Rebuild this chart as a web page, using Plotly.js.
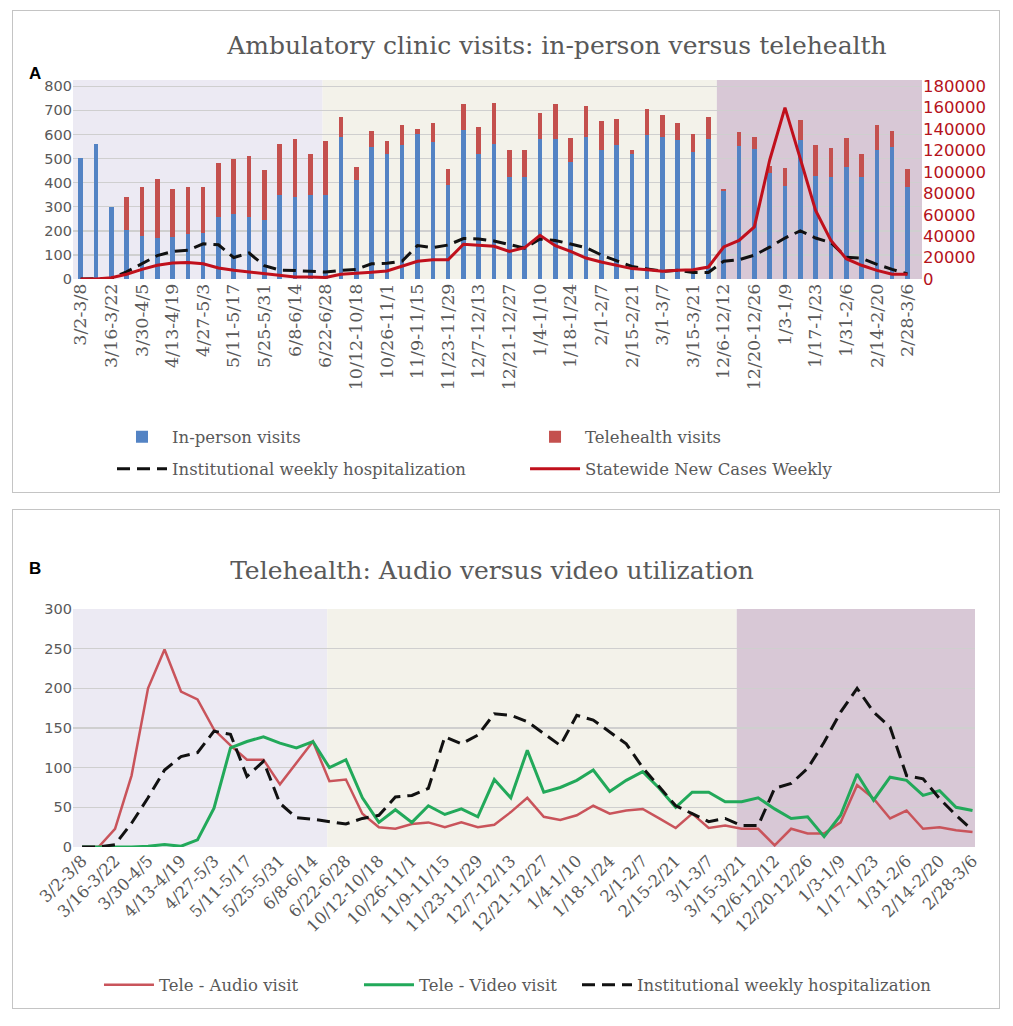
<!DOCTYPE html>
<html>
<head>
<meta charset="utf-8">
<script src="https://cdn.plot.ly/plotly-3.0.1.min.js"></script>
<style>
  html, body { margin: 0; padding: 0; background: #ffffff; }
  #wrap { position: relative; width: 1013px; height: 1026px; }
  #chartA { position: absolute; left: 12px; top: 10px; width: 986px; height: 481px; border: 1px solid #c4c4c4; }
  #chartB { position: absolute; left: 12px; top: 509px; width: 986px; height: 498px; border: 1px solid #c4c4c4; }
</style>
</head>
<body>
<div id="wrap">
  <div id="chartA"></div>
  <div id="chartB"></div>
</div>
<script>
// ---------- DATA ----------
const weeks = [
  '3/2-3/8','3/9-3/15','3/16-3/22','3/23-3/29','3/30-4/5','4/6-4/12','4/13-4/19','4/20-4/26',
  '4/27-5/3','5/4-5/10','5/11-5/17','5/18-5/24','5/25-5/31','6/1-6/7','6/8-6/14','6/15-6/21',
  '6/22-6/28','10/5-10/11','10/12-10/18','10/19-10/25','10/26-11/1','11/2-11/8','11/9-11/15','11/16-11/22',
  '11/23-11/29','11/30-12/6','12/7-12/13','12/14-12/20','12/21-12/27','12/28-1/3','1/4-1/10','1/11-1/17',
  '1/18-1/24','1/25-1/31','2/1-2/7','2/8-2/14','2/15-2/21','2/22-2/28','3/1-3/7','3/8-3/14',
  '3/15-3/21','11/29-12/5','12/6-12/12','12/13-12/19','12/20-12/26','12/27-1/2','1/3-1/9','1/10-1/16',
  '1/17-1/23','1/24-1/30','1/31-2/6','2/7-2/13','2/14-2/20','2/21-2/27','2/28-3/6'
];
const tickLabels = [
  '3/2-3/8','3/16-3/22','3/30-4/5','4/13-4/19','4/27-5/3','5/11-5/17','5/25-5/31','6/8-6/14',
  '6/22-6/28','10/12-10/18','10/26-11/1','11/9-11/15','11/23-11/29','12/7-12/13','12/21-12/27',
  '1/4-1/10','1/18-1/24','2/1-2/7','2/15-2/21','3/1-3/7','3/15-3/21','12/6-12/12','12/20-12/26',
  '1/3-1/9','1/17-1/23','1/31-2/6','2/14-2/20','2/28-3/6'
];
const inPersonVisits = [502,562,299,204,180,170,176,188,190,257,271,257,244,347,340,347,347,590,410,548,520,555,600,569,389,617,520,562,424,424,583,583,486,590,534,555,520,597,590,576,527,583,365,554,538,440,385,575,426,424,465,424,534,548,382];
const telehealthVisits = [0,0,0,136,202,247,198,194,192,226,229,252,207,215,240,173,225,83,55,67,52,83,21,79,69,108,111,170,110,110,108,142,99,127,122,111,14,110,92,72,76,90,10,56,52,30,76,83,130,120,120,94,104,67,76];
const hospitalization = [0,0,3,30,62,97,114,119,146,142,89,108,55,37,35,32,29,36,40,63,65,74,139,130,141,168,166,158,143,128,166,160,145,130,100,76,52,42,32,36,27,27,74,80,99,132,170,200,170,151,90,86,61,40,21];
const statewideCases = [0,0,1200,4400,9000,12800,15000,15300,14300,10300,8100,6500,4400,2800,1900,1900,1500,4400,5000,6200,7500,11800,16500,18000,18000,32400,31800,30500,25800,29300,40800,31100,25800,19600,15900,12800,9700,8700,7200,8100,8700,11200,29900,36100,48600,110900,160000,112400,64100,36100,19000,12800,8100,4400,4400];
const audioVisits = [0,0,23,90,200,249,196,186,148,128,110,110,79,106,133,83,85,42,25,23,29,31,25,31,25,28,44,62,38,34,40,52,42,46,48,36,24,42,24,27,23,23,2,23,17,17,31,78,61,36,46,23,25,21,19];
const videoVisits = [0,0,0,0,1,3,1,9,49,125,133,139,131,125,133,100,110,62,31,47,31,52,41,48,38,85,62,122,69,75,84,97,70,84,95,74,50,69,69,57,57,62,48,36,38,13,40,92,59,88,84,65,71,50,46];

// ---------- STYLE ----------
const SERIF = 'DejaVu Serif, serif';
const SANS = 'DejaVu Sans, sans-serif';
const GREY = '#595959';
const LAV = '#eceaf3', BEIGE = '#f3f2ea', PURP = '#d8c8d6';

function legendAt(x, y) {
  return { x: x, y: y, xref: 'container', yref: 'container', xanchor: 'left', yanchor: 'middle',
           orientation: 'h', bgcolor: 'rgba(0,0,0,0)', itemwidth: 50,
           font: { family: SERIF, size: 16.5, color: GREY } };
}

// ---------- PANEL A ----------
const tracesA = [
  { type: 'bar', name: 'In-person visits', x: weeks, y: inPersonVisits,
    marker: { color: '#5383c4' }, legend: 'legend', showlegend: true },
  { type: 'bar', name: 'Telehealth visits', x: weeks, y: telehealthVisits,
    marker: { color: '#c4504e' }, legend: 'legend2', showlegend: true },
  { type: 'scatter', mode: 'lines', name: 'Institutional weekly hospitalization', x: weeks, y: hospitalization,
    line: { color: '#111111', width: 3, dash: '13px,7px' }, legend: 'legend3', showlegend: true },
  { type: 'scatter', mode: 'lines', name: 'Statewide New Cases Weekly', x: weeks, y: statewideCases, yaxis: 'y2',
    line: { color: '#c0101c', width: 3 }, legend: 'legend4', showlegend: true }
];

const layoutA = {
  width: 986, height: 481,
  margin: { l: 60, r: 77, t: 69, b: 213 },
  showlegend: true,
  paper_bgcolor: '#ffffff', plot_bgcolor: '#ffffff',
  barmode: 'stack', bargap: 0.7,
  title: { text: 'Ambulatory clinic visits: in-person versus telehealth', xref: 'container', yref: 'container',
           x: 0.5517, y: 0.929, xanchor: 'center', yanchor: 'middle',
           font: { family: SERIF, size: 25, color: GREY } },
  xaxis: { type: 'category', categoryorder: 'array', categoryarray: weeks, range: [-0.5, 54.95],
           tickmode: 'array', tickvals: tickLabels, ticktext: tickLabels, tickangle: -90,
           tickfont: { family: SERIF, size: 17.5, color: GREY }, showgrid: false, showline: false, ticks: '' },
  yaxis: { range: [0, 826], tickmode: 'array', tickvals: [0,100,200,300,400,500,600,700,800],
           gridcolor: '#cfcfcf', gridwidth: 1.5, zeroline: false, showline: false,
           tickfont: { family: SANS, size: 14.5, color: GREY } },
  yaxis2: { overlaying: 'y', side: 'right', range: [0, 185850], showgrid: false, zeroline: false,
            tickmode: 'array', tickvals: [0,20000,40000,60000,80000,100000,120000,140000,160000,180000],
            tickformat: 'd', tickfont: { family: SANS, size: 16.5, color: '#b5121b' } },
  shapes: [
    { type: 'rect', xref: 'x', yref: 'paper', x0: -0.5, x1: 15.8, y0: 0, y1: 1, fillcolor: LAV, line: { width: 0 }, layer: 'below' },
    { type: 'rect', xref: 'x', yref: 'paper', x0: 15.8, x1: 41.55, y0: 0, y1: 1, fillcolor: BEIGE, line: { width: 0 }, layer: 'below' },
    { type: 'rect', xref: 'x', yref: 'paper', x0: 41.55, x1: 54.95, y0: 0, y1: 1, fillcolor: PURP, line: { width: 0 }, layer: 'below' }
  ],
  annotations: [
    { text: '<b>A</b>', xref: 'paper', yref: 'paper', x: -0.0448, y: 1.035, xanchor: 'center', yanchor: 'middle', showarrow: false,
      font: { family: 'Liberation Sans, Arial, sans-serif', size: 17, color: '#000000' } }
  ],
  legend: legendAt(0.1004, 0.1143),
  legend2: legendAt(0.5193, 0.1143),
  legend3: legendAt(0.1004, 0.0478),
  legend4: legendAt(0.5193, 0.0478)
};

Plotly.newPlot('chartA', tracesA, layoutA, { displayModeBar: false, staticPlot: true });

// ---------- PANEL B ----------
const tracesB = [
  { type: 'scatter', mode: 'lines', name: 'Tele - Audio visit', x: weeks, y: audioVisits,
    line: { color: '#c9545b', width: 2.5 }, legend: 'legend', showlegend: true },
  { type: 'scatter', mode: 'lines', name: 'Tele - Video visit', x: weeks, y: videoVisits,
    line: { color: '#22a95a', width: 3 }, legend: 'legend2', showlegend: true },
  { type: 'scatter', mode: 'lines', name: 'Institutional weekly hospitalization', x: weeks, y: hospitalization,
    line: { color: '#111111', width: 3, dash: '13px,7px' }, legend: 'legend3', showlegend: true }
];

const layoutB = {
  width: 986, height: 498,
  margin: { l: 60, r: 24, t: 99, b: 161 },
  showlegend: true,
  paper_bgcolor: '#ffffff', plot_bgcolor: '#ffffff',
  title: { text: 'Telehealth: Audio versus video utilization', xref: 'container', yref: 'container',
           x: 0.4858, y: 0.8795, xanchor: 'center', yanchor: 'middle',
           font: { family: SERIF, size: 25, color: GREY } },
  xaxis: { type: 'category', categoryorder: 'array', categoryarray: weeks, range: [-0.55, 54.15],
           tickmode: 'array', tickvals: tickLabels, ticktext: tickLabels, tickangle: -45,
           tickfont: { family: SERIF, size: 16.5, color: GREY }, showgrid: false, showline: false, ticks: '' },
  yaxis: { range: [0, 300], tickmode: 'array', tickvals: [0,50,100,150,200,250,300],
           gridcolor: '#cfcfcf', gridwidth: 1.5, zeroline: false, showline: false,
           tickfont: { family: SANS, size: 14.5, color: GREY } },
  shapes: [
    { type: 'rect', xref: 'x', yref: 'paper', x0: -0.55, x1: 14.87, y0: 0, y1: 1, fillcolor: LAV, line: { width: 0 }, layer: 'below' },
    { type: 'rect', xref: 'x', yref: 'paper', x0: 14.87, x1: 39.7, y0: 0, y1: 1, fillcolor: BEIGE, line: { width: 0 }, layer: 'below' },
    { type: 'rect', xref: 'x', yref: 'paper', x0: 39.7, x1: 54.15, y0: 0, y1: 1, fillcolor: PURP, line: { width: 0 }, layer: 'below' }
  ],
  annotations: [
    { text: '<b>B</b>', xref: 'paper', yref: 'paper', x: -0.042, y: 1.172, xanchor: 'center', yanchor: 'middle', showarrow: false,
      font: { family: 'Liberation Sans, Arial, sans-serif', size: 17, color: '#000000' } }
  ],
  legend: legendAt(0.0872, 0.0462),
  legend2: legendAt(0.3509, 0.0462),
  legend3: legendAt(0.572, 0.0462)
};

Plotly.newPlot('chartB', tracesB, layoutB, { displayModeBar: false, staticPlot: true });
</script>
</body>
</html>
